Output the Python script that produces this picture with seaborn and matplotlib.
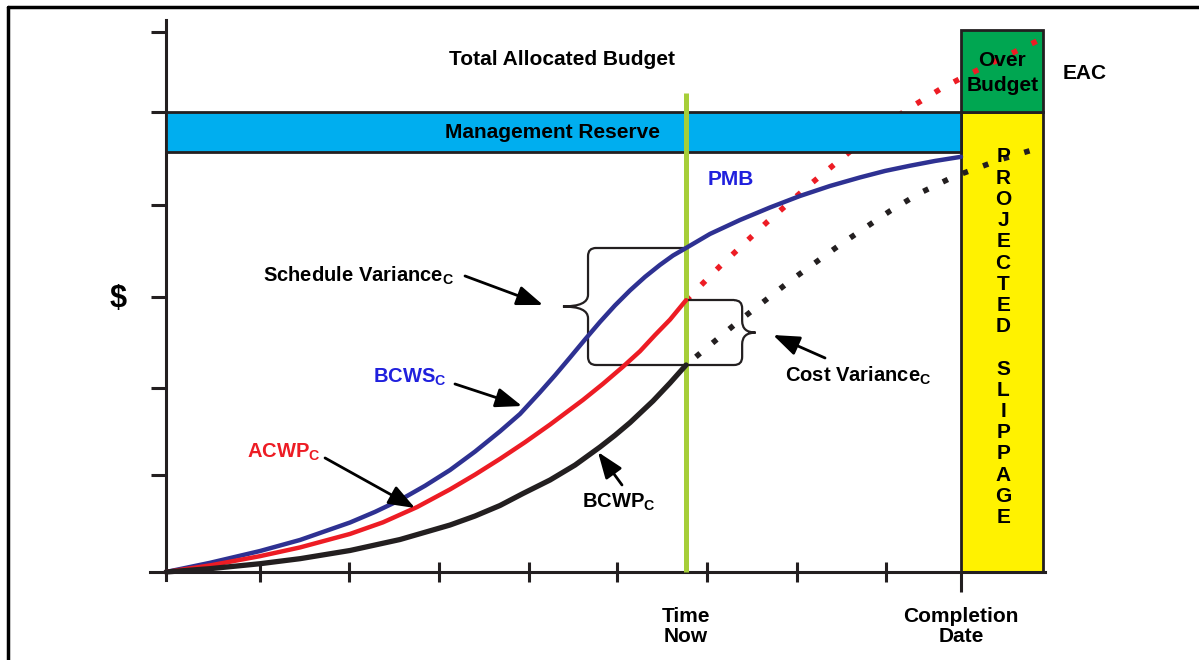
import matplotlib
matplotlib.use("Agg")
import matplotlib.pyplot as plt
import seaborn as sns
from matplotlib.patches import Rectangle, PathPatch
from matplotlib.path import Path
from matplotlib.lines import Line2D

# ---------------- data (time periods, $ units) ----------------
time_bcws = [0.000, 0.491, 1.049, 1.496, 2.054, 2.333, 2.612, 2.891, 3.170, 3.449,
             3.728, 3.951, 4.174, 4.342, 4.509, 4.676, 4.844, 5.011, 5.179, 5.346,
             5.513, 5.658, 5.804, 6.071, 6.406, 6.741, 7.076, 7.411, 7.746, 8.025,
             8.304, 8.583, 8.873]
bcws = [0.000, 0.102, 0.233, 0.356, 0.550, 0.668, 0.800, 0.958, 1.133, 1.338,
        1.563, 1.756, 1.997, 2.186, 2.383, 2.583, 2.779, 2.962, 3.129, 3.279,
        3.412, 3.516, 3.600, 3.756, 3.911, 4.050, 4.178, 4.289, 4.384, 4.456,
        4.514, 4.567, 4.613]

time_acwp = [0.000, 0.491, 1.049, 1.496, 2.054, 2.422, 2.801, 3.170, 3.449, 3.728,
             4.007, 4.286, 4.654, 4.877, 5.100, 5.290, 5.458, 5.625, 5.804]
acwp = [0.000, 0.073, 0.176, 0.273, 0.423, 0.552, 0.721, 0.918, 1.082, 1.257,
        1.442, 1.638, 1.912, 2.091, 2.281, 2.453, 2.633, 2.804, 3.020]

time_bcwp = [0.000, 0.491, 1.049, 1.496, 2.054, 2.612, 3.170, 3.449, 3.728, 3.984,
             4.286, 4.565, 4.844, 5.011, 5.179, 5.435, 5.625, 5.804]
bcwp = [0.000, 0.037, 0.092, 0.148, 0.239, 0.361, 0.522, 0.622, 0.739, 0.872,
        1.022, 1.188, 1.389, 1.519, 1.660, 1.900, 2.100, 2.300]

time_eac = [5.804, 6.183, 6.708, 7.188, 7.634, 8.248, 8.638, 8.873, 9.308, 9.810]
eac_proj = [3.020, 3.397, 3.888, 4.306, 4.672, 5.124, 5.363, 5.486, 5.700, 5.942]

time_proj = [5.804, 6.406, 6.964, 7.522, 8.080, 8.415, 8.783, 9.308, 9.810]
bcwp_proj = [2.300, 2.798, 3.233, 3.636, 4.011, 4.211, 4.389, 4.581, 4.731]

time_now = 5.804
completion = 8.873
slip_end = 9.79
pmb_top = 4.67            # bottom of management reserve
tab = 5.11                # total allocated budget
eac_top = 6.02

x_ticks = [1.05, 2.04, 3.05, 4.05, 5.03, 6.04, 7.04, 8.04]
y_ticks = [1.08, 2.04, 3.06, 4.08, 5.11, 6.00]

slip_letters = list("PROJECTED") + [""] + list("SLIPPAGE")

# ---------------- style ----------------
sns.set_theme(style="white")
plt.rcParams["font.family"] = ["Liberation Sans", "DejaVu Sans"]
plt.rcParams["mathtext.fontset"] = "custom"
plt.rcParams["mathtext.bf"] = "Liberation Sans:bold"
plt.rcParams["mathtext.rm"] = "Liberation Sans"
plt.rcParams["mathtext.it"] = "Liberation Sans:italic"

INK = "#231F20"
NAVY = "#2E3192"
RED = "#ED1C24"
LBLUE = "#2020DD"

fig = plt.figure(figsize=(11.99, 6.6), dpi=100)
fig.patch.set_facecolor("white")
ax = fig.add_axes([150 / 1199, 80 / 660, 895 / 1199, 560 / 660])
ax.set_facecolor("white")
ax.set_xlim(-0.1786, 9.81)
ax.set_ylim(-0.0889, 6.133)

# spines
for s in ["top", "right"]:
    ax.spines[s].set_visible(False)
for s in ["left", "bottom"]:
    ax.spines[s].set_position(("data", 0))
    ax.spines[s].set_linewidth(2.2)
    ax.spines[s].set_color(INK)
    ax.spines[s].set_zorder(2.5)

ax.set_xticks(x_ticks)
ax.set_xticks([completion], minor=True)
ax.set_yticks(y_ticks)
ax.set_xticklabels([])
ax.set_yticklabels([])
ax.set_xticklabels([], minor=True)
ax.tick_params(axis="x", which="major", direction="inout", length=15, width=2.2,
               color=INK, bottom=True)
ax.tick_params(axis="x", which="minor", direction="out", length=14.5, width=2.2,
               color=INK, bottom=True)
ax.tick_params(axis="y", which="major", direction="out", length=10.5, width=2.2,
               color=INK, left=True)
ax.grid(False)

# boxes
ax.add_patch(Rectangle((completion, 0), slip_end - completion, tab,
                       fc="#FFF200", ec=INK, lw=2, zorder=1))
ax.add_patch(Rectangle((completion, tab), slip_end - completion, eac_top - tab,
                       fc="#00A651", ec=INK, lw=2, zorder=1))

# projections (dotted)
sns.lineplot(x=time_eac, y=eac_proj, color=RED, linewidth=4.0,
             linestyle=(0, (1, 2.9)), sort=False, estimator=None, ax=ax, zorder=2)
sns.lineplot(x=time_proj, y=bcwp_proj, color=INK, linewidth=4.0,
             linestyle=(1.6, (1, 2.9)), sort=False, estimator=None, ax=ax, zorder=2)

# management reserve bar
ax.add_patch(Rectangle((0, pmb_top), completion, tab - pmb_top,
                       fc="#00AEEF", ec=INK, lw=2, zorder=3))

# time now line
ax.plot([time_now, time_now], [0, 5.32], color="#A6CE39", lw=3.6, zorder=3.5,
        solid_capstyle="butt")

# curves
for tx, ty, col, lw in [(time_bcws, bcws, NAVY, 3.2), (time_acwp, acwp, RED, 3.2),
                        (time_bcwp, bcwp, INK, 3.8)]:
    sns.lineplot(x=tx, y=ty, color=col, linewidth=lw, sort=False, estimator=None,
                 ax=ax, zorder=5, solid_joinstyle="round")


# braces
def brace(x_line, y_top, y_bot, tip_x, r=0.09, rt=0.13):
    d = 1 if tip_x < x_line else -1
    ym = (y_top + y_bot) / 2
    verts = [
        (x_line + d * r, y_top), (x_line, y_top), (x_line, y_top - r),
        (x_line, ym + rt),
        (x_line, ym), (tip_x, ym),
        (x_line, ym), (x_line, ym - rt),
        (x_line, y_bot + r),
        (x_line, y_bot), (x_line + d * r, y_bot),
    ]
    codes = [Path.MOVETO, Path.CURVE3, Path.CURVE3, Path.LINETO,
             Path.CURVE3, Path.CURVE3, Path.CURVE3, Path.CURVE3,
             Path.LINETO, Path.CURVE3, Path.CURVE3]
    ax.add_patch(PathPatch(Path(verts, codes), fc="none", ec=INK, lw=1.6, zorder=4))


sv_x, sv_tip = 4.71, 4.43
cv_x, cv_tip = 6.43, 6.58
bcws_now, acwp_now, bcwp_now = bcws[time_bcws.index(time_now)], acwp[-1], bcwp[-1]
brace(sv_x, bcws_now, bcwp_now, sv_tip)
brace(cv_x, acwp_now, bcwp_now, cv_tip)
ax.plot([sv_x + 0.09, time_now], [bcws_now, bcws_now], color=INK, lw=1.6, zorder=4)
ax.plot([sv_x + 0.09, cv_x - 0.09], [bcwp_now, bcwp_now], color=INK, lw=1.6, zorder=4)
ax.plot([time_now, cv_x - 0.09], [acwp_now, acwp_now], color=INK, lw=1.6, zorder=4)

# texts
bold = dict(fontweight="bold", color="black")
ax.text(4.414, 5.633, "Total Allocated Budget", ha="center", va="baseline", fontsize=15, **bold)
ax.text(4.314, 4.822, "Management Reserve", ha="center", va="baseline", fontsize=15, **bold)
ax.text(6.306, 4.30, "PMB", ha="center", va="baseline", fontsize=15,
        fontweight="bold", color=LBLUE)
ax.text(10.251, 5.478, "EAC", ha="center", va="baseline", fontsize=15, **bold)
ax.text(9.335, 5.622, "Over", ha="center", va="baseline", fontsize=15, **bold, zorder=6)
ax.text(9.342, 5.344, "Budget", ha="center", va="baseline", fontsize=15, **bold, zorder=6)
ax.text(-0.536, 3.03, "$", ha="center", va="center", fontsize=22, **bold)
ax.text(time_now, -0.556, "Time", ha="center", va="baseline", fontsize=15, **bold)
ax.text(time_now, -0.778, "Now", ha="center", va="baseline", fontsize=15, **bold)
ax.text(completion, -0.556, "Completion", ha="center", va="baseline", fontsize=15, **bold)
ax.text(completion, -0.778, "Date", ha="center", va="baseline", fontsize=15, **bold)

for i, ch in enumerate(slip_letters):
    if ch:
        ax.text(9.342, 4.55 - 0.2356 * i, ch, ha="center", va="baseline",
                fontsize=15, zorder=6, **bold)

ax.text(1.083, 3.222, r"Schedule Variance$_\mathbf{C}$", ha="left", va="baseline",
        fontsize=14.5, **bold)
ax.text(2.310, 2.10, r"BCWS$_\mathbf{C}$", ha="left", va="baseline",
        fontsize=14.5, fontweight="bold", color=LBLUE)
ax.text(0.904, 1.267, r"ACWP$_\mathbf{C}$", ha="left", va="baseline",
        fontsize=14.5, fontweight="bold", color=RED)
ax.text(4.643, 0.711, r"BCWP$_\mathbf{C}$", ha="left", va="baseline",
        fontsize=14.5, **bold)
ax.text(6.908, 2.111, r"Cost Variance$_\mathbf{C}$", ha="left", va="baseline",
        fontsize=14.5, **bold)

arrow = dict(arrowstyle="-|>,head_length=0.8,head_width=0.3", color="black",
             lw=2, mutation_scale=20, shrinkA=0, shrinkB=0)
for tail, head in [((3.337, 3.289), (4.208, 2.967)),
                   ((3.225, 2.089), (3.973, 1.844)),
                   ((1.775, 1.267), (2.779, 0.711)),
                   ((5.089, 0.967), (4.821, 1.333)),
                   ((7.355, 2.378), (6.775, 2.633))]:
    ax.annotate("", xy=head, xytext=tail, arrowprops=arrow, zorder=7)

# outer frame
fig.add_artist(Line2D([8 / 1199, 8 / 1199], [0, 1 - 7 / 660], transform=fig.transFigure,
                      color="black", lw=2.5))
fig.add_artist(Line2D([8 / 1199, 1], [1 - 7 / 660, 1 - 7 / 660], transform=fig.transFigure,
                      color="black", lw=2.5))

fig.savefig("out.png", dpi=100, facecolor="white")
